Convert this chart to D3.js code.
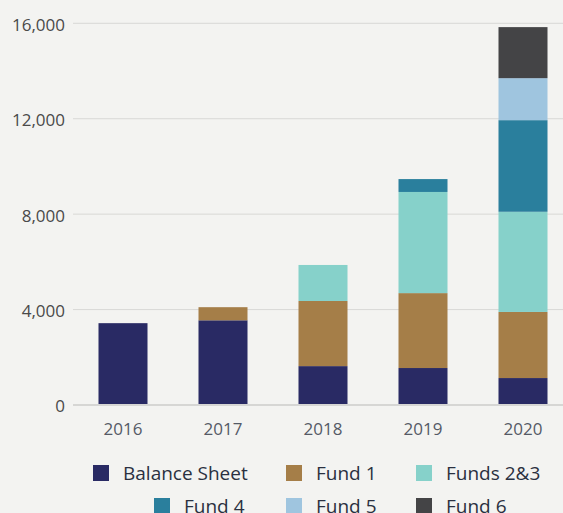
<!DOCTYPE html>
<html><head><meta charset="utf-8">
<script src="https://cdn.jsdelivr.net/npm/d3@7"></script>
<style>
html,body{margin:0;padding:0;background:#f3f3f1;}
svg{display:block;font-family:"Open Sans",sans-serif;}
</style></head>
<body><svg id="c" width="563" height="513"></svg>
<script>
const years = ["2016","2017","2018","2019","2020"];
const seriesNames = ["Balance Sheet","Fund 1","Funds 2&3","Fund 4","Fund 5","Fund 6"];
const balanceSheet = [3430, 3550, 1630, 1550, 1130];
const fund1 =        [0,    550,  2730, 3140, 2770];
const funds23 =      [0,    0,    1510, 4240, 4200];
const fund4 =        [0,    0,    0,    540,  3840];
const fund5 =        [0,    0,    0,    0,    1760];
const fund6 =        [0,    0,    0,    0,    2140];
const yTicks = [0, 4000, 8000, 12000, 16000];
const colors = ["#292a64","#a57e48","#86d1ca","#2a7f9d","#9fc5df","#444446"];

const seriesVals = [balanceSheet, fund1, funds23, fund4, fund5, fund6];
const rows = years.map((y,i)=>{const o={year:y}; seriesNames.forEach((s,k)=>o[s]=seriesVals[k][i]); return o;});
const stacked = d3.stack().keys(seriesNames)(rows);

const svg = d3.select("#c");
const x = d3.scaleBand().domain(years).range([73,573]).paddingInner(0.51).paddingOuter(0.255);
const y = d3.scaleLinear().domain([0,16000]).range([405,23.3]);

// grid
svg.append("g").selectAll("line").data(yTicks.filter(t=>t>0)).join("line")
  .attr("x1",73).attr("x2",563).attr("y1",d=>y(d)).attr("y2",d=>y(d))
  .attr("stroke","#d8d8d6").attr("stroke-width",1);

// y axis labels
const yAxis = d3.axisLeft(y).tickValues(yTicks).tickFormat(d3.format(",")).tickSize(0).tickPadding(0);
const ya = svg.append("g").attr("transform","translate(65,1.5)").call(yAxis);
ya.select(".domain").remove();
ya.selectAll("text").attr("font-size",17).attr("fill","#4a4a4a").attr("font-family","Open Sans, sans-serif");

// bars
svg.append("g").selectAll("g").data(stacked).join("g").attr("fill",(d,i)=>colors[i])
  .selectAll("rect").data(d=>d).join("rect")
  .attr("x",d=>x(d.data.year)).attr("width",x.bandwidth())
  .attr("y",d=>y(d[1])).attr("height",d=>y(d[0])-y(d[1]));

// baseline
svg.append("line").attr("x1",73).attr("x2",563).attr("y1",y(0)).attr("y2",y(0))
  .attr("stroke","#d6d6d4").attr("stroke-width",2);

// x axis
const xAxis = d3.axisBottom(x).tickSize(0).tickPadding(0);
const xa = svg.append("g").attr("transform","translate(0,423)").call(xAxis);
xa.select(".domain").remove();
xa.selectAll("text").attr("font-size",17).attr("fill","#555a66").attr("font-family","Open Sans, sans-serif");

// legend
const legendPos = [[93,465],[286,465],[416,465],[154,498],[286,498],[416,498]];
const lg = svg.append("g").selectAll("g").data(seriesNames).join("g")
  .attr("transform",(d,i)=>`translate(${legendPos[i][0]},${legendPos[i][1]})`);
lg.append("rect").attr("width",16).attr("height",16).attr("fill",(d,i)=>colors[i]);
lg.append("text").attr("x",30).attr("y",8.5).attr("dy","0.35em").attr("font-size",19)
  .attr("fill","#2a3040").text(d=>d);
</script></body></html>
